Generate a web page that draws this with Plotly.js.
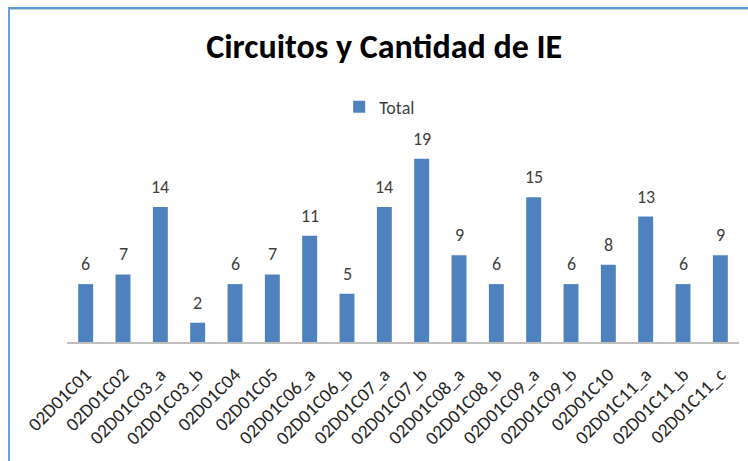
<!DOCTYPE html>
<html>
<head>
<meta charset="utf-8">
<script src="https://cdn.plot.ly/plotly-3.0.1.min.js"></script>
<style>
  html, body { margin: 0; padding: 0; background: #fff; }
  #wrap { position: relative; width: 748px; height: 461px; overflow: hidden; }
  #chart { position: absolute; left: 0; top: 0; width: 748px; height: 461px; }
  #frame { position: absolute; left: 8px; top: 7px; width: 760px; height: 470px;
           border-top: 2px solid #5b9bd5; border-left: 2px solid #6a9fd8;
           box-shadow: inset 0 1px 0 #c8c8c8; pointer-events: none; }
</style>
</head>
<body>
<div id="wrap">
  <div id="chart"></div>
  <div id="frame"></div>
</div>
<script>
const categories = ["02D01C01","02D01C02","02D01C03_a","02D01C03_b","02D01C04","02D01C05",
  "02D01C06_a","02D01C06_b","02D01C07_a","02D01C07_b","02D01C08_a","02D01C08_b",
  "02D01C09_a","02D01C09_b","02D01C10","02D01C11_a","02D01C11_b","02D01C11_c"];
const totals = [6,7,14,2,6,7,11,5,14,19,9,6,15,6,8,13,6,9];
const seriesName = "Total";
const chartTitle = "Circuitos y Cantidad de IE";

const FONT = "Carlito, Calibri, 'Liberation Sans', Arial, sans-serif";

const trace = {
  type: "bar",
  x: categories,
  y: totals,
  name: seriesName,
  marker: { color: "#4f81bd", line: { width: 0 } },
  hoverinfo: "x+y"
};

const annotations = categories.map((c, i) => ({
  x: c, y: totals[i], xref: "x", yref: "y",
  text: String(totals[i]), showarrow: false,
  yanchor: "bottom", yshift: 7,
  font: { family: FONT, size: 18, color: "#404040" }
}));

const layout = {
  width: 748, height: 461,
  paper_bgcolor: "#ffffff", plot_bgcolor: "#ffffff",
  margin: { l: 67, r: 9, t: 149, b: 119, pad: 0 },
  font: { family: FONT, color: "#404040" },
  title: {
    text: "<b>" + chartTitle + "</b>",
    font: { family: FONT, size: 34, color: "#000000" },
    xref: "paper", x: 0.472, xanchor: "center",
    yref: "container", y: 1 - 46 / 461, yanchor: "middle"
  },
  showlegend: true,
  legend: {
    orientation: "h",
    xref: "paper", x: 0.405, xanchor: "left",
    yref: "container", y: 1 - 107 / 461, yanchor: "middle",
    font: { family: FONT, size: 18, color: "#404040" },
    bgcolor: "rgba(0,0,0,0)"
  },
  bargap: 0.6,
  xaxis: {
    type: "category",
    tickangle: -45,
    tickfont: { family: FONT, size: 19, color: "#262626" },
    showline: true, linecolor: "#bfbfbf", linewidth: 2,
    ticks: "outside", ticklen: 12, tickcolor: "rgba(0,0,0,0)",
    showgrid: false, zeroline: false,
    fixedrange: true
  },
  yaxis: {
    range: [0, 20],
    visible: false,
    showgrid: false, zeroline: false,
    fixedrange: true
  },
  annotations: annotations
};

Plotly.newPlot("chart", [trace], layout, { displayModeBar: false, staticPlot: true });
</script>
</body>
</html>
